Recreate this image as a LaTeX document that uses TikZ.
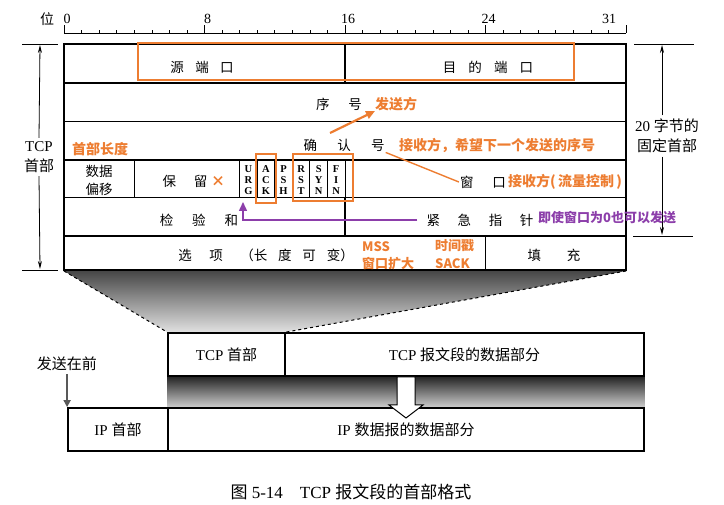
\documentclass[tikz,border=0pt]{standalone}
\usepackage{fontspec}
\setmainfont{Liberation Serif}
\newfontfamily\cjk{Noto Sans CJK SC}
\usetikzlibrary{arrows.meta,positioning,backgrounds}

\definecolor{noteorange}{RGB}{237,125,49}
\definecolor{notepurple}{RGB}{140,62,170}
\newcommand{\kg}[1][1.2em]{\hspace{#1}}

\tikzset{
  field/.style={font=\cjk\fontsize{13.5}{15}\selectfont, inner sep=1pt},
  flag/.style={font=\bfseries\fontsize{10.5}{11}\selectfont, align=center, inner sep=0pt},
  note/.style={text=noteorange, font=\cjk\bfseries\fontsize{14}{16}\selectfont, inner sep=0pt, anchor=west},
  hilite/.style={draw=noteorange, line width=1.6pt},
  dim/.style={-{Stealth[length=8pt,width=4pt]}, line width=0.8pt},
  segbox/.style={draw, line width=1.8pt, fill=white, minimum height=43pt, inner sep=0pt,
    font=\fontsize{15}{17}\selectfont},
}

\begin{document}
\begin{tikzpicture}[x=1pt,y=-1pt]
    \useasboundingbox (0,0) rectangle (724,505);

    % Righello dei bit
    \node[font=\cjk\fontsize{14}{16}\selectfont] (bitlab) at (47,19) {位};
    \draw[line width=0.9pt] (64,33) -- (626,33);
    \foreach \b in {0,...,31} \draw[line width=0.6pt] ({64+\b*17.5625},33) -- ++(0,-3);
    \foreach \b in {0,8,16,24} {
        \draw[line width=0.7pt] ({64+\b*17.5625},33) -- ++(0,-8);
        \node[font=\fontsize{14}{16}\selectfont] at ({67+\b*17.5625},19) {\b};
    }
    \draw[line width=0.7pt] (626,33) -- (626,25);
    \node[font=\fontsize{14}{16}\selectfont] at (609,19) {31};

    % Tabella dell'intestazione
    \draw[line width=2.2pt] (64,44) rectangle (626,270);
    \foreach \y in {83,121.5,160,197.5,236} \draw[line width=1.1pt] (64,\y) -- (626,\y);
    \draw[line width=1.1pt] (345,44) -- (345,83);
    \draw[line width=1.1pt] (134.25,160) -- (134.25,197.5);
    \foreach \b in {10,...,16} \draw[line width=0.9pt] ({64+\b*17.5625},160) -- ({64+\b*17.5625},197.5);
    \draw[line width=1.1pt] (345,197.5) -- (345,236);
    \draw[line width=1.1pt] (485.5,236) -- (485.5,270);

    % Campi
    \node[field] (srcport) at (202,67) {源\kg[0.85em]端\kg[0.85em]口};
    \node[field] (dstport) at (488,67) {目\kg[0.9em]的\kg[0.9em]端\kg[0.9em]口};
    \node[field] (seq) at (339,104) {序\kg[1.4em]号};
    \node[field] (ack) at (344,145) {确\kg[1.5em]认\kg[1.5em]号};
    \node[field, align=center, font=\cjk\fontsize{13.5}{18}\selectfont] (offset) at (99,180) {数据\\偏移};
    \node[field] (rsvd) at (185,181) {保\kg[1.3em]留};
    \node[flag] (urg) at (248.4,180) {U\\R\\G};
    \node[flag] (ackf) at (266,180) {A\\C\\K};
    \node[flag] (psh) at (283.5,180) {P\\S\\H};
    \node[flag] (rst) at (301.1,180) {R\\S\\T};
    \node[flag] (syn) at (318.7,180) {S\\Y\\N};
    \node[flag] (fin) at (336.2,180) {F\\I\\N};
    \node[field] (win) at (483,182) {窗\kg[1.4em]口};
    \node[field] (cksum) at (199,220) {检\kg[1.4em]验\kg[1.4em]和};
    \node[field] (urgptr) at (480,220) {紧\kg[1.3em]急\kg[1.3em]指\kg[1.3em]针};
    \node[field] (opts) at (266,255) {选\kg[1.3em]项\kg[1.3em]（长\kg[0.8em]度\kg[0.8em]可\kg[0.8em]变）};
    \node[field] (pad) at (554,255) {填\kg[1.9em]充};

    % Quote laterali
    \node[align=center, font=\fontsize{15}{20}\selectfont] (tcphdr) at (39,157) {TCP\\{\cjk 首部}};
    \coordinate (ltop) at (40,45);
    \coordinate (lbot) at (40,269);
    \draw[line width=0.8pt] (22,44) -- (58,44);
    \draw[line width=0.8pt] (22,270) -- (58,270);
    \draw[dim] (tcphdr.north) -- (ltop);
    \draw[dim] (tcphdr.south) -- (lbot);

    \node[align=center, font=\fontsize{15}{20}\selectfont] (fixhdr) at (667,136) {20 {\cjk 字节的}\\{\cjk 固定首部}};
    \coordinate (rtop) at (662,45);
    \coordinate (rbot) at (662,235);
    \draw[line width=0.8pt] (634,44) -- (694,44);
    \draw[line width=0.8pt] (633,236) -- (693,236);
    \draw[dim] (fixhdr.north -| rtop) -- (rtop);
    \draw[dim] (fixhdr.south -| rtop) -- (rbot);

    % Evidenziazioni
    \draw[hilite] (138,43) rectangle (574,80);
    \draw[hilite] (256,154) rectangle (276,203);
    \draw[hilite] (293,154) rectangle (353,201);

    % Note
    \node[note] (sender) at (375,104) {发送方};
    \node[note] (acknote) at (399,145) {接收方，希望下一个发送的序号};
    \node[note] (hlen) at (72,149) {首部长度};
    \node[note] (nouse) at (211,181) {×};
    \node[note] (flow) at (508,182) {接收方(\,流量控制\,)};
    \node[note, text=notepurple, font=\cjk\bfseries\fontsize{13}{15}\selectfont] (urgnote) at (538,218) {即使窗口为0也可以发送};
    \node[note, font=\cjk\bfseries\fontsize{13}{15}\selectfont] (mss) at (362,247) {MSS};
    \node[note, font=\cjk\bfseries\fontsize{13}{15}\selectfont] (wscale) at (362,264) {窗口扩大};
    \node[note, font=\cjk\bfseries\fontsize{13}{15}\selectfont] (tstamp) at (435,246) {时间戳};
    \node[note, font=\cjk\bfseries\fontsize{13}{15}\selectfont] (sack) at (435,264) {SACK};

    \coordinate (ackfrom) at (330,133);
    \draw[-{Triangle[length=9pt,width=8pt]}, noteorange, line width=2.2pt] (ackfrom) -- (sender.south west);
    \draw[noteorange, line width=1.4pt] (ack.south east) -- (win.west);
    \coordinate (urgtip) at (243,202);
    \draw[-{Triangle[length=9pt,width=8pt]}, notepurple, line width=1.5pt, shorten <=8pt] (urgptr.west) -| (urgtip);

    % Incapsulamento
    \node[segbox, minimum width=117pt] (seghdr) at (226.5,354.5) {TCP {\cjk 首部}};
    \node[segbox, minimum width=359pt] (segdata) at (464.5,354.5) {TCP {\cjk 报文段的数据部分}};
    \node[segbox, minimum width=100pt] (iphdr) at (118,429.5) {IP {\cjk 首部}};
    \node[segbox, minimum width=476pt] (ipdata) at (406,429.5) {IP {\cjk 数据报的数据部分}};

    \coordinate (tbl west) at (64,271);
    \coordinate (tbl east) at (626,271);
    \begin{scope}[on background layer]
        \shade[top color=black!72, bottom color=black!12] (tbl west) -- (tbl east) -- (seghdr.north east) -- (seghdr.north west) -- cycle;
        \shade[top color=black!85, bottom color=black!20] (seghdr.south west) rectangle (ipdata.north east);
    \end{scope}
    \draw[dashed, line width=1pt] (tbl west) -- (seghdr.north west);
    \draw[dashed, line width=1pt] (tbl east) -- (seghdr.north east);

    % Freccia verso il basso
    \draw[fill=white, line width=1pt] (397,377) -- (415,377) -- (415,405) -- (423,405) -- (406,418)
        -- (389,405) -- (397,405) -- cycle;

    \node[font=\cjk\fontsize{15}{17}\selectfont] (sendfirst) at (67,364) {发送在前};
    \draw[-{Triangle[length=7pt,width=7pt]}, black!65, line width=2.5pt] (sendfirst.south -| iphdr.west) -- (iphdr.north west);

    % Didascalia
    \node[font=\fontsize{17}{19}\selectfont] (caption) at (351,492) {{\cjk 图} 5-14\quad TCP {\cjk 报文段的首部格式}};
\end{tikzpicture}
\end{document}
